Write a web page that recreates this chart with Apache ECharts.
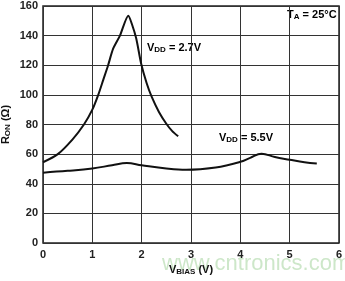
<!DOCTYPE html>
<html lang="en">
<head>
  <meta charset="UTF-8">
  <title>RON vs VBIAS</title>
  <script src="https://cdn.jsdelivr.net/npm/echarts@6.0.0/dist/echarts.min.js"></script>
  <style>
    html, body { margin: 0; padding: 0; background: #fff; }
  </style>
</head>
<body>
  <!-- Chart container -->
  <div id="main" style="width: 345px; height: 281px;"></div>

  <script>
    // Curve data: [VBIAS, RON]
    const vdd27 = [
      [0, 54.5], [0.3, 60], [0.6, 70], [0.83, 80], [1.0, 90], [1.12, 100],
      [1.22, 110], [1.32, 120], [1.42, 131], [1.56, 140], [1.73, 153.5],
      [1.8, 148], [1.89, 138], [1.99, 121], [2.1, 108], [2.2, 99],
      [2.35, 88.5], [2.5, 80.5], [2.62, 75.5], [2.74, 72]
    ];
    const vdd55 = [
      [0, 47.5], [0.5, 48.7], [1, 50.3], [1.4, 52.5], [1.7, 54], [2, 52.5],
      [2.5, 50.3], [2.9, 49.4], [3.5, 51], [4, 54.8], [4.2, 57.5],
      [4.43, 60.3], [4.7, 58], [5, 56.2], [5.3, 54.5], [5.55, 53.6]
    ];
    const xTicks = [0, 6, 1];      // min, max, interval
    const yTicks = [0, 160, 20];

    const font = 'Liberation Sans, Arial, sans-serif';
    const subRich = {
      b: { fontFamily: font, fontWeight: 'bold', fontSize: 11, color: '#111' },
      s: { fontFamily: font, fontWeight: 'bold', fontSize: 8, color: '#111', padding: [5, 0, 0, 0] }
    };

    const myChart = echarts.init(document.getElementById('main'));

    const options = {
      animation: false,
      grid: {
        left: 43, right: 6, top: 6, bottom: 38,
        outerBoundsMode: 'none', containLabel: false,
        show: true, borderColor: '#222', borderWidth: 1.5
      },
      xAxis: {
        type: 'value',
        min: xTicks[0], max: xTicks[1], interval: xTicks[2],
        name: '{b|V}{s|BIAS}{b| (V)}',
        nameLocation: 'middle', nameGap: 20, nameMoveOverlap: false,
        nameTextStyle: { rich: subRich },
        axisLine: { show: false },
        axisTick: { show: false },
        axisLabel: { margin: 6, fontFamily: font, fontWeight: 'bold', fontSize: 11, color: '#222' },
        splitLine: { lineStyle: { color: '#333', width: 1 } }
      },
      yAxis: {
        type: 'value',
        min: yTicks[0], max: yTicks[1], interval: yTicks[2],
        name: '{b|R}{s|ON}{b| (Ω)}',
        nameLocation: 'middle', nameGap: 31, nameRotate: 90, nameMoveOverlap: false,
        nameTextStyle: { rich: subRich },
        axisLine: { show: false },
        axisTick: { show: false },
        axisLabel: { margin: 5, fontFamily: font, fontWeight: 'bold', fontSize: 11, color: '#222' },
        splitLine: { lineStyle: { color: '#333', width: 1 } }
      },
      series: [
        {
          name: 'VDD = 2.7V', type: 'line', data: vdd27, smooth: 0.25,
          showSymbol: false, lineStyle: { color: '#111', width: 2 }
        },
        {
          name: 'VDD = 5.5V', type: 'line', data: vdd55, smooth: 0.4,
          showSymbol: false, lineStyle: { color: '#111', width: 2 }
        }
      ],
      graphic: [
        {
          type: 'text', left: 147, top: 42,
          style: { text: '{b|V}{s|DD}{b| = 2.7V}', rich: subRich }
        },
        {
          type: 'text', left: 219, top: 132,
          style: { text: '{b|V}{s|DD}{b| = 5.5V}', rich: subRich }
        },
        {
          type: 'text', left: 287, top: 9,
          style: { text: '{b|T}{s|A}{b| = 25°C}', rich: subRich }
        },
        {
          type: 'text', left: 162, top: 253,
          style: { text: 'www.cntronics.com', fontFamily: font, fontSize: 22, fill: 'rgba(130,195,120,0.4)' },
          z: 0
        }
      ]
    };

    myChart.setOption(options);
  </script>
</body>
</html>
